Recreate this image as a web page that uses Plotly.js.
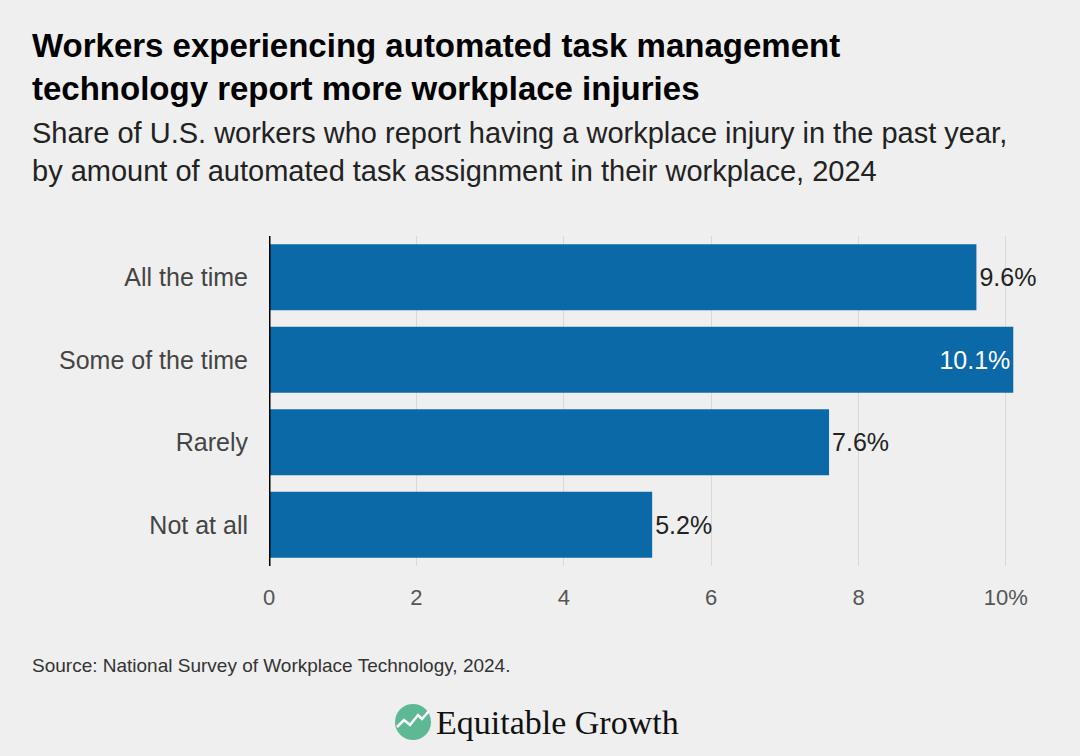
<!DOCTYPE html>
<html><head><meta charset="utf-8">
<script src="https://cdn.plot.ly/plotly-3.0.1.min.js"></script>
<style>html,body{margin:0;padding:0;background:#efefef;}#chart{width:1080px;height:756px;}</style>
</head><body><div id="chart"></div>
<script>
const categories = ["All the time", "Some of the time", "Rarely", "Not at all"];
const values = [9.6, 10.1, 7.6, 5.2];
const tickVals = [0, 2, 4, 6, 8, 10];
const tickText = ["0", "2", "4", "6", "8", "10%"];
const labelPos = ["outside", "inside", "outside", "outside"];

const L = 269, R = 52, T = 236, B = 190;
const W = 1080, H = 756;
const pw = W - L - R, ph = H - T - B;
const px = x => (x - L) / pw;
const py = y => (H - B - y) / ph;
const FONT = "Liberation Sans, Arial, sans-serif";

const trace = {
  type: "bar", orientation: "h",
  y: categories, x: values,
  marker: {color: "#0b69a8"},
  text: values.map(v => v.toFixed(1) + "%"),
  textposition: labelPos,
  insidetextanchor: "end",
  insidetextfont: {color: "#ffffff", size: 25, family: FONT},
  outsidetextfont: {color: "#222222", size: 25, family: FONT},
  cliponaxis: false,
  hoverinfo: "skip"
};

const layout = {
  width: W, height: H,
  paper_bgcolor: "#efefef", plot_bgcolor: "#efefef",
  margin: {l: L, r: R, t: T, b: B, pad: 0},
  bargap: 0.2,
  showlegend: false,
  font: {family: FONT, color: "#444"},
  xaxis: {
    range: [0, 10.3], tickvals: tickVals, ticktext: tickText,
    showgrid: true, gridcolor: "#d9d9d9", gridwidth: 1,
    zeroline: false, showline: false, ticks: "",
    tickfont: {size: 22, color: "#555", family: FONT}, ticklabelstandoff: 16
  },
  yaxis: {
    categoryorder: "array", categoryarray: categories.slice().reverse(),
    autorange: true, showgrid: false, zeroline: false, showline: false, ticks: "",
    tickfont: {size: 25, color: "#444", family: FONT}, ticklabelstandoff: 20
  },
  shapes: [
    {type: "line", xref: "x", yref: "paper", x0: 0, x1: 0, y0: 0, y1: 1, line: {color: "#000", width: 3}},
    {type: "circle", xref: "paper", yref: "paper", x0: px(395), x1: px(431), y0: py(740), y1: py(704),
     fillcolor: "#5db894", line: {width: 0}},
    {type: "path", xref: "paper", yref: "paper",
     path: `M ${px(397)} ${py(727)} L ${px(404)} ${py(720)} L ${px(410)} ${py(725)} L ${px(418)} ${py(715)} L ${px(422)} ${py(719)} L ${px(429)} ${py(711)}`,
     line: {color: "#ffffff", width: 2.5}}
  ],
  annotations: [
    {xref: "paper", yref: "paper", x: px(30), y: py(25), xanchor: "left", yanchor: "top", align: "left", showarrow: false,
     text: "<b>Workers experiencing automated task management<br>technology report more workplace injuries</b>",
     font: {size: 33, color: "#000", family: FONT}},
    {xref: "paper", yref: "paper", x: px(30), y: py(115), xanchor: "left", yanchor: "top", align: "left", showarrow: false,
     text: "Share of U.S. workers who report having a workplace injury in the past year,<br>by amount of automated task assignment in their workplace, 2024",
     font: {size: 29, color: "#222", family: FONT}},
    {xref: "paper", yref: "paper", x: px(30), y: py(665), xanchor: "left", yanchor: "middle", align: "left", showarrow: false,
     text: "Source: National Survey of Workplace Technology, 2024.",
     font: {size: 19, color: "#333", family: FONT}},
    {xref: "paper", yref: "paper", x: px(434), y: py(722), xanchor: "left", yanchor: "middle", align: "left", showarrow: false,
     text: "Equitable Growth",
     font: {size: 34, color: "#111", family: "Liberation Serif, serif"}}
  ]
};

Plotly.newPlot("chart", [trace], layout, {displayModeBar: false, staticPlot: true});
</script></body></html>
